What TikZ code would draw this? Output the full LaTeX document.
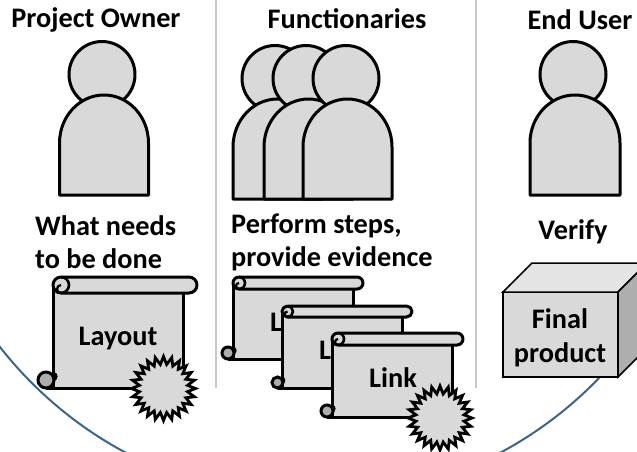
\documentclass[tikz,border=0pt]{standalone}
\usepackage{fontspec}
\setmainfont{Carlito}
\usetikzlibrary{shapes.geometric}
\definecolor{shapegray}{HTML}{D9D9D9}
\definecolor{curlgray}{HTML}{ADADAD}
\definecolor{divgray}{HTML}{C8C8C8}
\definecolor{arcblue}{HTML}{3A6491}
\tikzset{
  x=1pt,y=-1pt,
  lbl/.style={font=\bfseries\fontsize{28.3}{34}\selectfont,text=black,inner sep=0pt},
  ink/.style={draw=black,fill=shapegray,line width=3pt,line join=round},
  burst/.style={star,star points=24,star point ratio=1.32,minimum size=64pt,inner sep=0pt,draw=black,fill=shapegray,line width=2.8pt,miter limit=10},
  divider/.style={draw=divgray,line width=2pt}
}
% person: head x, body x, half body width, y shift
\newcommand{\personfig}[4]{%
  \begin{scope}[yshift=#4]
  \draw[ink] (#1,74.5) circle[radius=33];
  \draw[ink] (#2-#3,195) -- (#2-#3,143) arc[start angle=180,end angle=0,x radius=#3,y radius=-48] -- (#2+#3,195) -- cycle;
  \end{scope}
}
% scroll: left, right, bar end, top, bar bottom, bottom
\newcommand{\scrollfig}[6]{%
  \pgfmathsetmacro{\rr}{(#5-#4)/2}
  \draw[ink] (#1,#4+\rr) -- (#1,#6) -- (#2,#6) -- (#2,#5);
  \draw[ink] (#1+\rr,#4) -- (#3-\rr,#4) arc[start angle=-90,end angle=90,radius=\rr] -- (#1+\rr,#5) arc[start angle=90,end angle=270,radius=\rr];
  \draw[ink,fill=none,line width=2.6pt] (#1+\rr,#4) arc[start angle=-90,end angle=90,radius=\rr];
  \draw[black,line width=2.2pt] (#1+\rr,#5) arc[start angle=90,end angle=270,radius=\rr/2];
  \draw[black,line width=3pt,fill=curlgray] (#1-\rr+1,#6-\rr) circle[radius=\rr];
  \draw[black,line width=2.2pt] (#1,#6-2*\rr+1) arc[start angle=-90,end angle=90,radius=\rr/2-.5];
  \draw[black,line width=3pt] (#1-\rr+1,#6) -- (#1,#6);
}
\begin{document}
\begin{tikzpicture}
\useasboundingbox (0,0) rectangle (637,451);
\begin{scope}
  \clip (0,0) rectangle (637,451);
  \draw[arcblue,line width=2pt] (313,102) circle[radius=397.5];
\end{scope}
\draw[divider] (215.5,0) -- (215.5,388);
\draw[divider] (476,0) -- (476,388);
\node[lbl] (t1) at (96,20) {Project Owner};
\node[lbl] (t2) at (347,19) {Functionaries};
\node[lbl] (t3) at (580,20) {End User};
\personfig{102}{104}{44.5}{0pt}
\personfig{275}{277.5}{44.5}{-4pt}
\personfig{306}{308.5}{44.5}{-4pt}
\personfig{346}{347.5}{44.5}{-4pt}
\personfig{573}{575}{45}{0pt}
\node[lbl,anchor=west] (w1) at (35,226) {What needs};
\node[lbl,anchor=west] (w2) at (35,259) {to be done};
\node[lbl,anchor=west] (p1) at (231,226) {Perform steps,};
\node[lbl,anchor=west] (p2) at (231,259) {provide evidence};
\node[lbl] (v) at (573,232) {Verify};
\scrollfig{53}{183}{197}{277}{293}{388}
\node[lbl] (s1) at (118,339) {Layout};
\node[burst] (b1) at (163.5,388.5) {};
\scrollfig{233}{353}{363}{277}{289}{359}
\node[lbl] (s2) at (294,322) {Link};
\scrollfig{282}{402}{412}{306}{317}{388}
\node[lbl] (s3) at (343,350) {Link};
\scrollfig{332}{452}{463}{333}{345}{417}
\node[lbl] (s4) at (393,378) {Link};
\node[burst] (b2) at (440,418) {};
\begin{scope}
  \clip (0,0) rectangle (637,451);
  \draw[line width=1.5pt,fill=shapegray] (503,292) rectangle (618,377);
  \draw[line width=1.5pt,fill=shapegray!70!white] (503,292) -- (532,263) -- (647,263) -- (618,292) -- cycle;
  \draw[line width=1.5pt,fill=shapegray!80!black] (618,292) -- (647,263) -- (647,348) -- (618,377) -- cycle;
\end{scope}
\node[lbl,align=center,text depth=0pt] (f) at (560,336) {Final\\product};
\end{tikzpicture}
\end{document}
